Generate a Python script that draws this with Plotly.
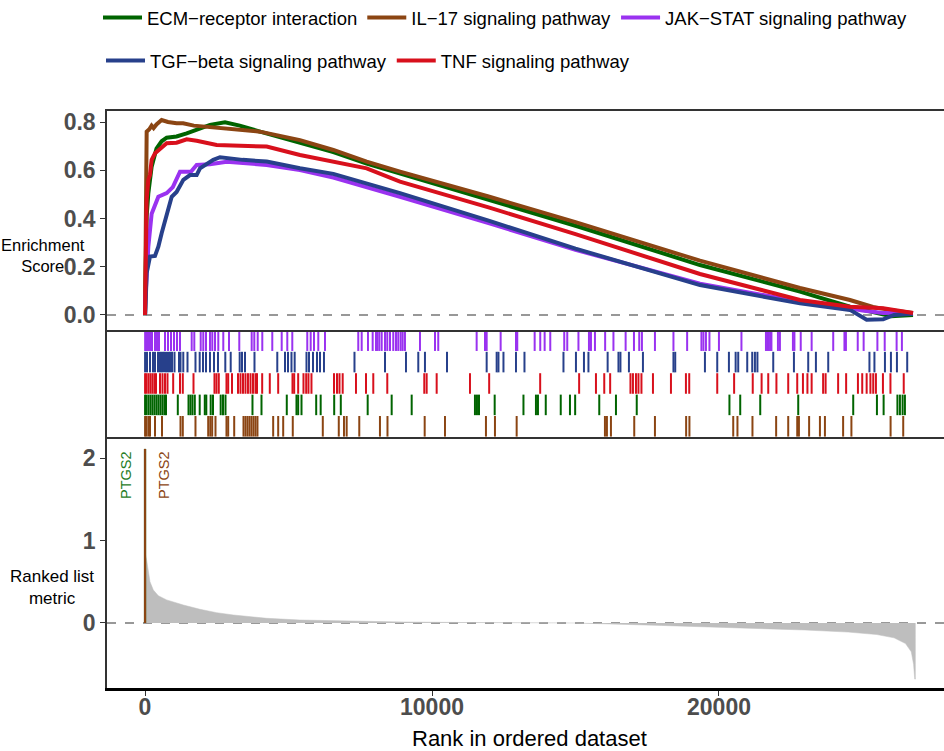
import plotly.graph_objects as go

# ---------------------------------------------------------------- data
pathways = [
    "ECM−receptor interaction",
    "IL−17 signaling pathway",
    "JAK−STAT signaling pathway",
    "TGF−beta signaling pathway",
    "TNF signaling pathway",
]
colors = ["#006400", "#8B4513", "#9A32F0", "#27408B", "#D8101C"]
# row of each gene set in the hit panel (0 = bottom)
hit_rows = [1, 0, 4, 3, 2]

# running enrichment score, sampled along the ranked list
es_rank_ecm = [0, 20, 58, 116, 232, 400, 580, 755, 1100, 1452, 1800, 2265, 2787, 3300,
               4007, 5400, 6562, 7724, 8885, 12000, 15000, 19338, 22822, 24564, 25366,
               26000, 26760]
es_ecm = [0, 0.20, 0.41, 0.505, 0.615, 0.69, 0.72, 0.735, 0.74, 0.753, 0.767, 0.788, 0.799,
          0.785, 0.76, 0.715, 0.675, 0.628, 0.587, 0.475, 0.37, 0.207, 0.097, 0.034, 0.01,
          -0.005, 0.0]

es_rank_il17 = [0, 15, 40, 58, 150, 230, 300, 400, 580, 800, 1100, 1330, 1700, 2100, 2500,
                3000, 3500, 4007, 5400, 6562, 7724, 8885, 12000, 15000, 19338, 22822, 24564,
                25366, 26000, 26760]
es_il17 = [0, 0.35, 0.70, 0.76, 0.77, 0.785, 0.775, 0.79, 0.808, 0.80, 0.795, 0.795, 0.785,
           0.78, 0.775, 0.77, 0.765, 0.76, 0.725, 0.684, 0.636, 0.594, 0.49, 0.385, 0.225,
           0.112, 0.062, 0.033, 0.02, 0.008]

es_rank_jak = [0, 10, 116, 232, 465, 755, 970, 1161, 1220, 1600, 1800, 2265, 2846, 4240,
               5400, 6562, 7724, 8885, 12000, 15000, 19338, 22822, 24564, 25000, 25720,
               26300, 26760]
es_jak = [0, 0.06, 0.283, 0.42, 0.49, 0.505, 0.53, 0.573, 0.594, 0.594, 0.622, 0.625, 0.635,
          0.622, 0.601, 0.57, 0.532, 0.49, 0.38, 0.27, 0.13, 0.055, 0.028, 0.018, 0.008,
          0.01, 0.005]

es_rank_tgf = [0, 10, 58, 174, 348, 465, 580, 755, 930, 1100, 1336, 1568, 1800, 1916, 2380,
               2613, 3400, 4240, 5400, 6562, 7724, 8885, 12000, 15000, 19338, 22822, 24564,
               25145, 25720, 26100, 26760]
es_tgf = [0, 0.008, 0.174, 0.242, 0.245, 0.283, 0.339, 0.408, 0.49, 0.51, 0.56, 0.58, 0.58,
          0.608, 0.643, 0.654, 0.643, 0.636, 0.608, 0.585, 0.546, 0.505, 0.39, 0.275, 0.124,
          0.048, 0.021, -0.02, -0.018, 0.0, 0.005]

es_rank_tnf = [0, 10, 58, 116, 174, 232, 350, 755, 1100, 1452, 1800, 2497, 3300, 4240, 5400,
               6562, 7724, 8885, 12000, 15000, 19338, 22822, 24564, 25720, 26760]
es_tnf = [0, 0.09, 0.477, 0.56, 0.58, 0.643, 0.67, 0.712, 0.714, 0.728, 0.722, 0.705, 0.70,
          0.698, 0.663, 0.635, 0.608, 0.553, 0.445, 0.335, 0.17, 0.062, 0.034, 0.028, 0.008]

# positions of gene-set members in the ranked list
hits_ecm = [3, 52, 122, 192, 261, 331, 401, 470, 540, 610, 679, 732, 1143, 1516, 1585, 1655,
            1735, 1906, 2083, 2136, 2289, 2369, 2637, 2718, 2805, 3745, 4059, 4940, 5278,
            5337, 5453, 5965, 6121, 6592, 6822, 7759, 8595, 9292, 11497, 11567, 11637, 12184,
            13187, 13622, 13692, 13964, 14486, 14807, 14988, 15828, 16410, 17134, 20364,
            20740, 21437, 22761, 24677, 25503, 25736, 26217, 26304, 26398, 26478]
hits_il17 = [3, 52, 122, 174, 348, 592, 1237, 1317, 1759, 2202, 2275, 2341, 2456, 2839, 2899,
             3108, 3432, 3501, 3571, 3641, 3710, 3780, 3850, 3919, 4466, 4641, 4815, 5149,
             6195, 6752, 6933, 7027, 7466, 8187, 8449, 9745, 10452, 11880, 12194, 12950,
             16026, 16095, 16235, 17047, 17768, 18855, 18970, 20496, 20643, 21166, 21991,
             22412, 22726, 22785, 23140, 23517, 23691, 24325, 24614, 25979, 26419]
hits_jak = [5, 35, 105, 174, 244, 348, 418, 488, 697, 801, 906, 1010, 1115, 1219, 1627, 1718,
            1941, 2031, 2125, 2264, 2345, 2439, 2554, 2728, 2927, 3285, 3717, 3808, 3927,
            4087, 4435, 4763, 4958, 5132, 5654, 5773, 5888, 6038, 6271, 7431, 7550, 7769,
            7933, 8048, 8093, 8163, 8247, 8362, 8442, 8536, 8651, 8746, 8825, 8909, 8978,
            9058, 9581, 10104, 10218, 11556, 11846, 11905, 12392, 12926, 12971, 13577,
            13772, 13925, 14121, 14608, 14713, 15103, 15469, 15539, 15678, 16033, 16322,
            16747, 17037, 17221, 17315, 17768, 18413, 18890, 19388, 19458, 19545, 19667,
            19998, 20782, 21636, 21688, 21740, 21793, 21827, 22054, 22123, 22576, 22628,
            22848, 23228, 23980, 24371, 24423, 24834, 25040, 25519, 25774, 26189, 26373]
hits_tgf = [3, 70, 174, 279, 348, 453, 523, 592, 662, 732, 801, 871, 941, 1028, 1185, 1237,
            1334, 1481, 1759, 1906, 2021, 2125, 2264, 2404, 2543, 2798, 2986, 3299, 3379,
            3484, 3815, 4609, 4878, 4982, 5104, 5215, 5627, 5714, 5853, 5993, 6097, 6236,
            7299, 8362, 9093, 9522, 9755, 10522, 11905, 12253, 12316, 12490, 12926, 13222,
            14581, 15016, 15295, 15451, 16120, 16497, 16566, 16862, 17350, 18413, 18475,
            19510, 19939, 20346, 20580, 20670, 20984, 21158, 21252, 21339, 21890, 22611,
            23109, 23377, 23806, 25242, 25416, 25782, 25991, 26200, 26558]
hits_tnf = [3, 52, 122, 192, 261, 331, 383, 523, 610, 697, 784, 982, 1219, 1317, 1690, 2421,
            2491, 2571, 2839, 2899, 3031, 3240, 3327, 3414, 3501, 3588, 3676, 3763, 3850,
            3902, 4083, 4348, 4641, 5139, 5198, 5337, 5522, 5616, 5696, 5800, 6585, 6690,
            6777, 6888, 7351, 7700, 7954, 8442, 9731, 9814, 10163, 11323, 11992, 13769,
            15127, 15713, 16002, 16208, 16915, 17002, 17107, 17194, 17298, 17699, 18326,
            18848, 18963, 19939, 20527, 21176, 21485, 21716, 22001, 22412, 22726, 22925,
            23081, 23228, 23628, 23715, 24151, 24430, 24841, 24991, 25145, 25276, 25374,
            25468, 25712, 25974, 26437]

# ranked list metric (sampled along the ranks)
metric_rank = [1, 2, 58, 116, 174, 290, 465, 755, 1336, 1916, 2497, 3078, 3659, 4240, 5400,
               7000, 9000, 11000, 13000, 15000, 18000, 21000, 23000, 24500, 25500, 26100,
               26500, 26700, 26780, 26820, 26850]
metric_value = [2.11, 0.85, 0.76, 0.60, 0.50, 0.40, 0.33, 0.28, 0.218, 0.166, 0.125, 0.097,
                0.073, 0.057, 0.036, 0.022, 0.012, 0.006, 0.002, 0.0, -0.03, -0.06, -0.085,
                -0.11, -0.14, -0.18, -0.25, -0.35, -0.50, -0.68, -0.68]

# leading gene labelled in the metric panel
label_gene = "PTGS2"
label_rank = 1
label_value = 2.11

# rank axis ticks
x_tickvals = [0, 10000, 20000]
x_ticktext = ["0", "10000", "20000"]

es_ranks = [es_rank_ecm, es_rank_il17, es_rank_jak, es_rank_tgf, es_rank_tnf]
es_values = [es_ecm, es_il17, es_jak, es_tgf, es_tnf]
hits = [hits_ecm, hits_il17, hits_jak, hits_tgf, hits_tnf]

# ---------------------------------------------------------------- figure
FONT = "Liberation Sans"
TICK_COLOR = "#4D4D4D"
LINE_COLOR = "#333333"

fig = go.Figure()

# running enrichment score curves (top panel)
for i, name in enumerate(pathways):
    fig.add_trace(go.Scatter(
        x=es_ranks[i], y=es_values[i], mode="lines", name=name,
        line=dict(color=colors[i], width=4),
        xaxis="x3", yaxis="y3",
        legend="legend" if i < 3 else "legend2",
    ))

# gene-set hits (middle panel)
for i, name in enumerate(pathways):
    xs, ys = [], []
    r = hit_rows[i]
    for h in hits[i]:
        xs += [h, h, None]
        ys += [r + 0.02, r + 0.98, None]
    fig.add_trace(go.Scatter(
        x=xs, y=ys, mode="lines", showlegend=False, hoverinfo="skip",
        line=dict(color=colors[i], width=2),
        xaxis="x2", yaxis="y2",
    ))

# ranked list metric (bottom panel)
fig.add_trace(go.Scatter(
    x=metric_rank, y=metric_value, mode="lines", fill="tozeroy",
    fillcolor="#BEBEBE", line=dict(color="#BEBEBE", width=0.5),
    showlegend=False, xaxis="x", yaxis="y",
))

# leading-gene bars for ECM (green) and IL-17 (brown)
for ci in (0, 1):
    fig.add_trace(go.Scatter(
        x=[label_rank, label_rank], y=[0, label_value], mode="lines",
        line=dict(color=colors[ci], width=2.2), showlegend=False,
        xaxis="x", yaxis="y",
    ))

# dashed zero lines
for yref in ("y3", "y"):
    fig.add_shape(type="line", xref="paper", x0=0, x1=1, yref=yref, y0=0, y1=0,
                  line=dict(color=LINE_COLOR, width=1.1, dash="dash"), layer="below")

# gene labels
for ci, shift, col in ((0, -19, "#1E7B1E"), (1, 19, "#8B4513")):
    fig.add_annotation(
        x=label_rank, y=label_value, xref="x", yref="y", text=label_gene,
        textangle=-90, showarrow=False, xanchor="center", yanchor="top",
        xshift=shift, font=dict(family=FONT, size=14.5, color=col),
    )

# axis titles (horizontal, left of the panels)
fig.add_annotation(x=-0.076, y=0.75, xref="paper", yref="paper",
                   text="Enrichment<br>Score", showarrow=False, align="center",
                   xanchor="center", yanchor="middle",
                   font=dict(family=FONT, size=16.5, color="black"))
fig.add_annotation(x=-0.066, y=0.174, xref="paper", yref="paper",
                   text="Ranked list<br>metric", showarrow=False, align="center",
                   xanchor="center", yanchor="middle",
                   font=dict(family=FONT, size=17, color="black"))
fig.add_annotation(x=0.505, y=-0.088, xref="paper", yref="paper",
                   text="Rank in ordered dataset", showarrow=False,
                   xanchor="center", yanchor="middle",
                   font=dict(family=FONT, size=22, color="black"))

x_range = [-1324, 27840]
tickfont = dict(family=FONT, size=23, color=TICK_COLOR, weight="bold")
legend_font = dict(family=FONT, size=18.5, color="black")

fig.update_layout(
    width=944, height=751,
    margin=dict(l=107, r=0, t=111, b=63),
    paper_bgcolor="white", plot_bgcolor="white",
    font=dict(family=FONT, color="black"),
    xaxis=dict(domain=[0, 1], range=x_range, anchor="y",
               tickvals=x_tickvals, ticktext=x_ticktext, ticks="outside", ticklen=5,
               tickwidth=1.2, tickcolor=LINE_COLOR, tickfont=tickfont,
               ticklabelstandoff=-8,
               showline=True, linecolor="black", linewidth=2.5,
               showgrid=False, zeroline=False),
    xaxis2=dict(domain=[0, 1], range=x_range, anchor="y2", matches="x",
                showticklabels=False, ticks="", showline=True, mirror=False,
                linecolor=LINE_COLOR, linewidth=1.5, showgrid=False, zeroline=False),
    xaxis3=dict(domain=[0, 1], range=x_range, anchor="y3", matches="x",
                showticklabels=False, ticks="", showline=True, mirror=True,
                linecolor=LINE_COLOR, linewidth=1.5, showgrid=False, zeroline=False),
    yaxis=dict(domain=[0, 0.435], range=[-0.788, 2.2545], anchor="x",
               tickvals=[0, 1, 2], ticks="outside", ticklen=5, tickwidth=1.2,
               tickcolor=LINE_COLOR, tickfont=tickfont,
               showline=True, linecolor=LINE_COLOR, linewidth=1.5,
               showgrid=False, zeroline=False),
    yaxis2=dict(domain=[0.435, 0.6205], range=[0, 5], anchor="x2",
                showticklabels=False, ticks="", showline=True,
                linecolor=LINE_COLOR, linewidth=1.5, showgrid=False, zeroline=False),
    yaxis3=dict(domain=[0.6205, 1], range=[-0.0622, 0.8456], anchor="x3",
                tickvals=[0, 0.2, 0.4, 0.6, 0.8], ticktext=["0.0", "0.2", "0.4", "0.6", "0.8"],
                ticks="outside", ticklen=5, tickwidth=1.2, tickcolor=LINE_COLOR,
                tickfont=tickfont, showline=True, linecolor=LINE_COLOR, linewidth=1.5,
                showgrid=False, zeroline=False),
    legend=dict(orientation="h", xref="container", yref="container",
                x=98 / 944, y=1 - 18 / 751, xanchor="left", yanchor="middle",
                font=legend_font, bgcolor="rgba(0,0,0,0)", itemwidth=39,
                traceorder="normal"),
    legend2=dict(orientation="h", xref="container", yref="container",
                 x=101 / 944, y=1 - 61 / 751, xanchor="left", yanchor="middle",
                 font=legend_font, bgcolor="rgba(0,0,0,0)", itemwidth=39,
                 traceorder="normal"),
    showlegend=True,
)

fig.write_html("out.html")
